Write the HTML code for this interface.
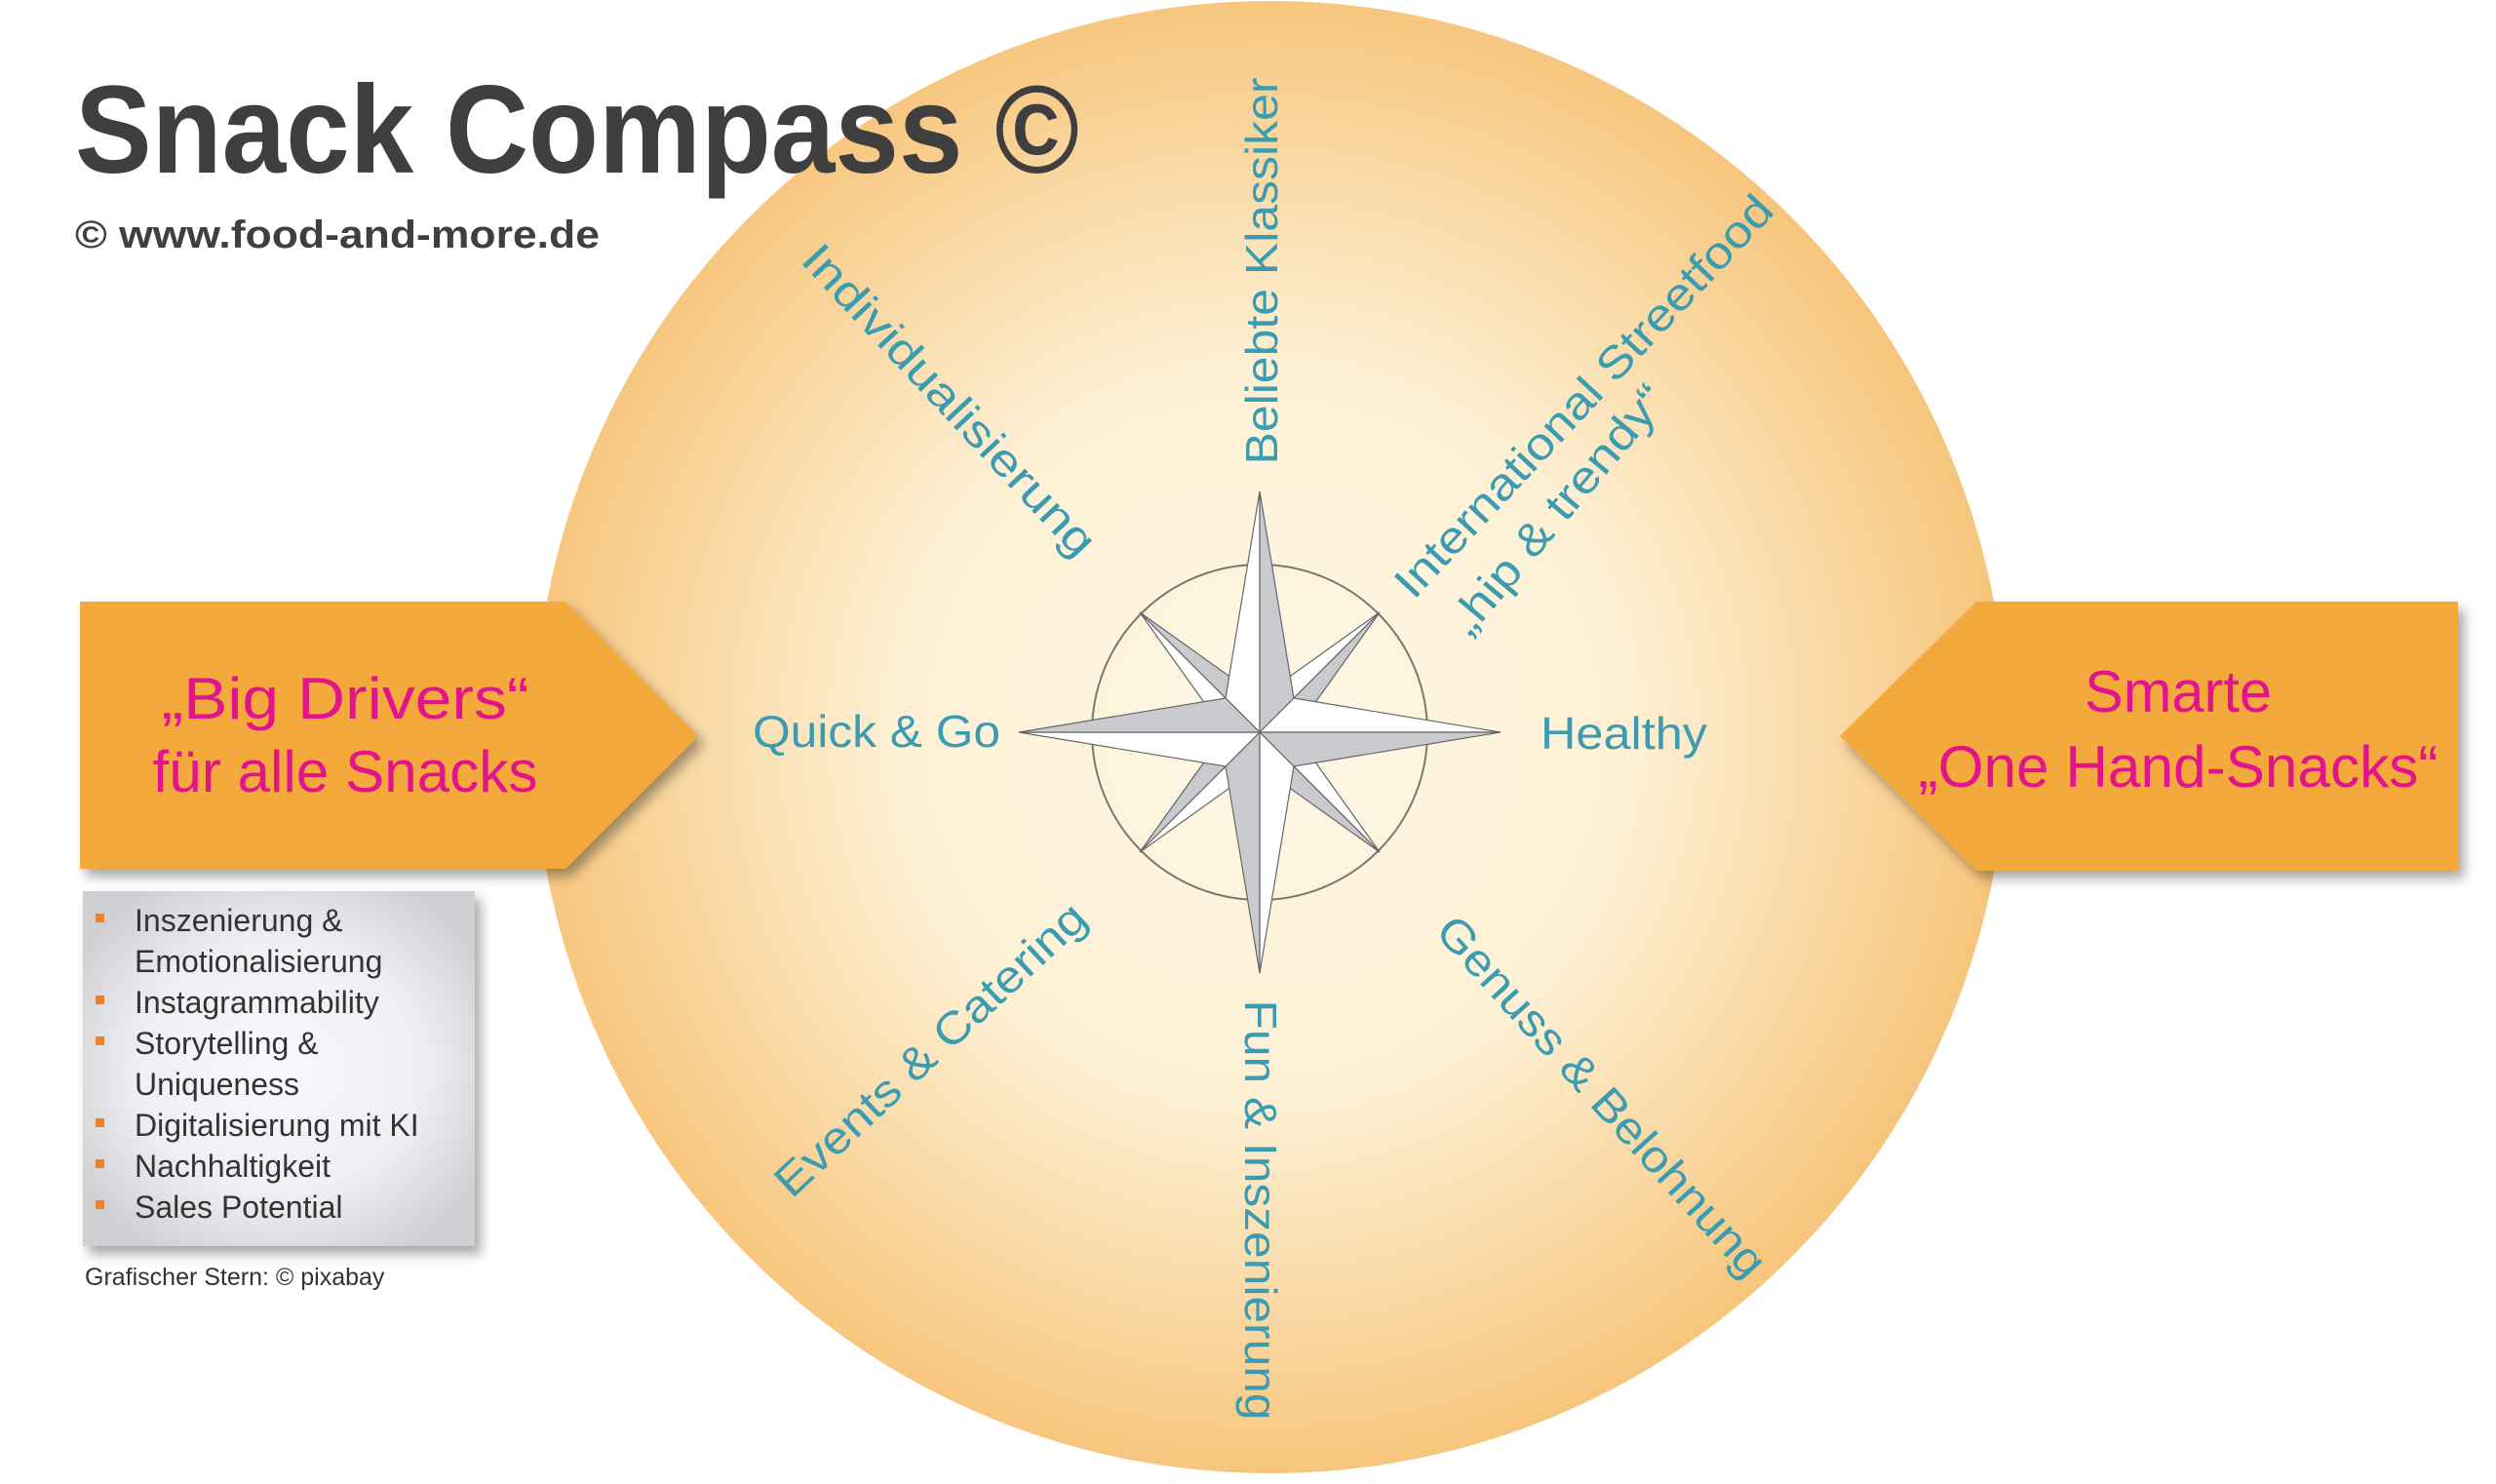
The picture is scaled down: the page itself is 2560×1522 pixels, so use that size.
<!DOCTYPE html>
<html><head><meta charset="utf-8"><style>
html,body{margin:0;padding:0;background:#fff;}
svg{display:block;}
</style></head><body>
<svg width="2560" height="1522" viewBox="0 0 2560 1522" xmlns="http://www.w3.org/2000/svg">
<defs>
<radialGradient id="cg" cx="1296" cy="753" r="755" gradientUnits="userSpaceOnUse">
<stop offset="0" stop-color="#fff8e6"/>
<stop offset="0.5" stop-color="#fdf0d4"/>
<stop offset="1" stop-color="#f7c67e"/>
</radialGradient>
<radialGradient id="bg" cx="0.5" cy="0.5" r="0.6">
<stop offset="0" stop-color="#f8f9fd"/>
<stop offset="0.6" stop-color="#eeeff3"/>
<stop offset="1" stop-color="#cfd0d3"/>
</radialGradient>
<filter id="sh" x="-10%" y="-10%" width="130%" height="130%">
<feDropShadow dx="6" dy="8" stdDeviation="6" flood-color="#000" flood-opacity="0.35"/>
</filter>
<g id="mainArm">
<polygon points="0,-247 0,0 -35,-35" fill="#ffffff" stroke="#666" stroke-width="1.2"/>
<polygon points="0,-247 0,0 35,-35" fill="#c9cacd" stroke="#666" stroke-width="1.2"/>
</g>
<g id="diagArm">
<polygon points="-123,-123 0,0 -58,-32" fill="#ffffff" stroke="#666" stroke-width="1.2"/>
<polygon points="-123,-123 0,0 -32,-58" fill="#c9cacd" stroke="#666" stroke-width="1.2"/>
</g>
</defs>

<circle cx="1303" cy="756" r="755" fill="url(#cg)"/>

<text x="77" y="177" font-family="Liberation Sans, sans-serif" font-weight="bold" font-size="128" fill="#3f3f3f" textLength="1030" lengthAdjust="spacingAndGlyphs">Snack Compass ©</text>
<text x="77" y="254" font-family="Liberation Sans, sans-serif" font-weight="bold" font-size="40" fill="#3f3f3f" textLength="538" lengthAdjust="spacingAndGlyphs">© www.food-and-more.de</text>

<polygon points="82,617 580,617 716,755 580,891 82,891" fill="#f3a93a" filter="url(#sh)"/>
<g font-family="Liberation Sans, sans-serif" font-size="60" fill="#e3138e" text-anchor="middle">
<text x="354" y="737" textLength="377" lengthAdjust="spacingAndGlyphs">„Big Drivers“</text>
<text x="354" y="812" textLength="395" lengthAdjust="spacingAndGlyphs">für alle Snacks</text>
</g>

<polygon points="1887,755 2027,617 2521,617 2521,893 2027,893" fill="#f3a93a" filter="url(#sh)"/>
<g font-family="Liberation Sans, sans-serif" font-size="60" fill="#e3138e" text-anchor="middle">
<text x="2234" y="730" textLength="192" lengthAdjust="spacingAndGlyphs">Smarte</text>
<text x="2234" y="807" textLength="533" lengthAdjust="spacingAndGlyphs">„One Hand-Snacks“</text>
</g>

<rect x="85" y="914" width="402" height="364" fill="url(#bg)" filter="url(#sh)"/>
<g fill="#f07f2a">
<rect x="98" y="937" width="9" height="9"/>
<rect x="98" y="1021" width="9" height="9"/>
<rect x="98" y="1063" width="9" height="9"/>
<rect x="98" y="1147" width="9" height="9"/>
<rect x="98" y="1189" width="9" height="9"/>
<rect x="98" y="1231" width="9" height="9"/>
</g>
<g font-family="Liberation Sans, sans-serif" font-size="32" fill="#333">
<text x="138" y="955">Inszenierung &amp;</text>
<text x="138" y="997">Emotionalisierung</text>
<text x="138" y="1039">Instagrammability</text>
<text x="138" y="1081">Storytelling &amp;</text>
<text x="138" y="1123">Uniqueness</text>
<text x="138" y="1165">Digitalisierung mit KI</text>
<text x="138" y="1207">Nachhaltigkeit</text>
<text x="138" y="1249">Sales Potential</text>
</g>
<text x="87" y="1318" font-family="Liberation Sans, sans-serif" font-size="25" fill="#333">Grafischer Stern: © pixabay</text>

<g transform="translate(1292,751)">
<circle cx="0" cy="0" r="172" fill="none" stroke="#7a7670" stroke-width="2"/>
<use href="#diagArm"/>
<use href="#diagArm" transform="rotate(90)"/>
<use href="#diagArm" transform="rotate(180)"/>
<use href="#diagArm" transform="rotate(270)"/>
<use href="#mainArm"/>
<use href="#mainArm" transform="rotate(90)"/>
<use href="#mainArm" transform="rotate(180)"/>
<use href="#mainArm" transform="rotate(270)"/>
</g>

<g font-family="Liberation Sans, sans-serif" font-size="46" fill="#3b9bb1">
<text x="772" y="766" textLength="254" lengthAdjust="spacingAndGlyphs">Quick &amp; Go</text>
<text x="1580" y="768" textLength="171" lengthAdjust="spacingAndGlyphs">Healthy</text>
<g text-anchor="middle" dominant-baseline="central">
<text transform="translate(1294,278) rotate(-90)" textLength="397" lengthAdjust="spacingAndGlyphs">Beliebte Klassiker</text>
<text transform="translate(1293,1241) rotate(90)" textLength="431" lengthAdjust="spacingAndGlyphs">Fun &amp; Inszenierung</text>
<text transform="translate(974,410) rotate(47)" textLength="418" lengthAdjust="spacingAndGlyphs">Individualisierung</text>
<text transform="translate(954,1076) rotate(-43)" textLength="418" lengthAdjust="spacingAndGlyphs">Events &amp; Catering</text>
<text transform="translate(1643,1124) rotate(48)" textLength="480" lengthAdjust="spacingAndGlyphs">Genuss &amp; Belohnung</text>
<text transform="translate(1624,406) rotate(-47)" textLength="545" lengthAdjust="spacingAndGlyphs">International Streetfood</text>
<text transform="translate(1597,522) rotate(-50)" textLength="318" lengthAdjust="spacingAndGlyphs">„hip &amp; trendy“</text>
</g>
</g>
</svg>
</body></html>
